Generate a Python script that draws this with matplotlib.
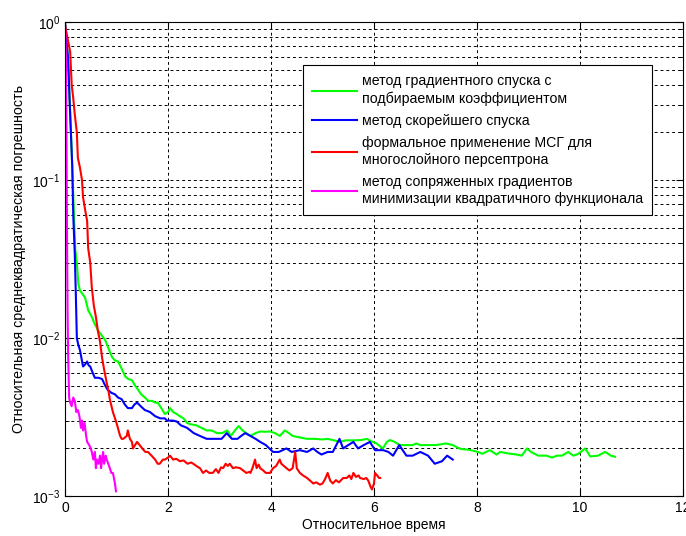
import matplotlib
matplotlib.use('Agg')
import matplotlib.pyplot as plt
import matplotlib.ticker as mticker
import numpy as np

plt.rcParams['font.family'] = ['Liberation Sans', 'DejaVu Sans']
plt.rcParams['font.size'] = 10
plt.rcParams['xtick.direction'] = 'in'
plt.rcParams['ytick.direction'] = 'in'

# метод градиентного спуска с подбираемым коэффициентом
x_green = [0, 0.03, 0.06, 0.1, 0.14, 0.17, 0.2, 0.23, 0.26, 0.29, 0.34, 0.39, 0.45, 0.52, 0.58, 0.64,
           0.71, 0.78, 0.85, 0.91, 0.97, 1.03, 1.1, 1.17, 1.23, 1.3, 1.36, 1.42, 1.48, 1.55, 1.62, 1.69,
           1.75, 1.8, 1.87, 1.94, 2.0, 2.04, 2.1, 2.17, 2.23, 2.3, 2.37, 2.43, 2.55, 2.65, 2.75, 2.85,
           2.95, 3.05, 3.15, 3.22, 3.3, 3.37, 3.45, 3.52, 3.6, 3.7, 3.79, 3.88, 3.98, 4.08, 4.17, 4.27,
           4.35, 4.42, 4.55, 4.7, 4.85, 5.0, 5.1, 5.2, 5.34, 5.45, 5.6, 5.75, 5.86, 5.95, 6.05, 6.17,
           6.25, 6.31, 6.4, 6.5, 6.65, 6.75, 6.82, 6.9, 7.05, 7.2, 7.28, 7.4, 7.53, 7.67, 7.85, 8.02,
           8.1, 8.25, 8.38, 8.45, 8.6, 8.77, 8.87, 8.97, 9.05, 9.19, 9.35, 9.46, 9.55, 9.65, 9.77, 9.87,
           9.97, 10.1, 10.2, 10.35, 10.49, 10.6, 10.68]
y_green = [1.0, 0.8, 0.55, 0.27, 0.125, 0.065, 0.036, 0.03, 0.022, 0.02, 0.019, 0.018, 0.015, 0.0136,
           0.0122, 0.0112, 0.0104, 0.0097, 0.0085, 0.0076, 0.0072, 0.0071, 0.0064, 0.0057, 0.0055,
           0.0054, 0.005, 0.0047, 0.0044, 0.0042, 0.004, 0.004, 0.0039, 0.0039, 0.0036, 0.0033, 0.0034,
           0.0036, 0.0034, 0.0033, 0.0032, 0.0031, 0.0029, 0.00285, 0.0028, 0.0027, 0.0026, 0.0026,
           0.0025, 0.0025, 0.0026, 0.0024, 0.0026, 0.00277, 0.0026, 0.0025, 0.0024, 0.0025, 0.00256,
           0.00255, 0.00256, 0.0025, 0.0024, 0.0026, 0.0025, 0.0024, 0.00235, 0.0023, 0.0023, 0.00228,
           0.0023, 0.00226, 0.0022, 0.00225, 0.00225, 0.00226, 0.0023, 0.00222, 0.00215, 0.002, 0.0022,
           0.00226, 0.0022, 0.0021, 0.0021, 0.0021, 0.00215, 0.0021, 0.0021, 0.0021, 0.00212, 0.00215,
           0.0021, 0.00199, 0.00196, 0.0019, 0.00185, 0.00195, 0.00183, 0.0019, 0.00186, 0.00183,
           0.0018, 0.002, 0.0019, 0.0018, 0.0018, 0.00175, 0.0018, 0.0018, 0.0019, 0.0018, 0.00185,
           0.002, 0.00178, 0.0018, 0.0019, 0.0018, 0.00177]

# метод скорейшего спуска
x_blue = [0, 0.03, 0.06, 0.1, 0.14, 0.16, 0.19, 0.21, 0.23, 0.26, 0.29, 0.35, 0.39, 0.43, 0.46, 0.49,
          0.54, 0.58, 0.65, 0.72, 0.78, 0.83, 0.9, 0.97, 1.03, 1.1, 1.16, 1.22, 1.3, 1.35, 1.4, 1.47,
          1.55, 1.65, 1.75, 1.85, 1.94, 1.98, 2.1, 2.17, 2.25, 2.37, 2.5, 2.62, 2.75, 2.87, 2.95, 3.04,
          3.14, 3.24, 3.35, 3.42, 3.5, 3.6, 3.7, 3.79, 3.9, 4.04, 4.15, 4.3, 4.4, 4.56, 4.7, 4.82, 4.9,
          4.98, 5.1, 5.2, 5.33, 5.4, 5.5, 5.6, 5.69, 5.8, 5.92, 6.02, 6.18, 6.28, 6.37, 6.49, 6.63,
          6.75, 6.9, 7.05, 7.18, 7.32, 7.42, 7.53]
y_blue = [1.0, 0.75, 0.59, 0.26, 0.124, 0.06, 0.034, 0.019, 0.01, 0.009, 0.0084, 0.0066, 0.0068, 0.0071,
          0.0067, 0.0066, 0.006, 0.0056, 0.0056, 0.0055, 0.005, 0.0047, 0.0045, 0.0044, 0.0042, 0.0041,
          0.0038, 0.0036, 0.0036, 0.0038, 0.0039, 0.0037, 0.0035, 0.0034, 0.0032, 0.0031, 0.0031, 0.003,
          0.003, 0.00296, 0.0028, 0.0027, 0.0025, 0.0024, 0.0023, 0.0023, 0.0023, 0.0023, 0.0025,
          0.0023, 0.0023, 0.0024, 0.0025, 0.0024, 0.0023, 0.0022, 0.0021, 0.0019, 0.0019, 0.002, 0.0019,
          0.00195, 0.0019, 0.002, 0.0019, 0.00183, 0.0019, 0.0019, 0.0023, 0.002, 0.0021, 0.0022, 0.002,
          0.0021, 0.0022, 0.00195, 0.00195, 0.0019, 0.0018, 0.0021, 0.0018, 0.0018, 0.0019, 0.0018,
          0.0016, 0.00166, 0.0018, 0.0017]

# формальное применение МСГ
x_red = [0, 0.03, 0.1, 0.13, 0.16, 0.19, 0.23, 0.25, 0.29, 0.33, 0.35, 0.39, 0.43, 0.45, 0.49, 0.52,
         0.56, 0.6, 0.64, 0.68, 0.72, 0.76, 0.81, 0.85, 0.87, 0.93, 1.0, 1.07, 1.1, 1.13, 1.2, 1.22,
         1.26, 1.3, 1.32, 1.36, 1.4, 1.45, 1.5, 1.56, 1.61, 1.68, 1.75, 1.8, 1.84, 1.9, 1.94, 2.0, 2.04,
         2.1, 2.16, 2.23, 2.3, 2.38, 2.45, 2.49, 2.55, 2.62, 2.68, 2.74, 2.8, 2.87, 2.93, 2.98, 3.03,
         3.07, 3.12, 3.16, 3.2, 3.26, 3.32, 3.4, 3.46, 3.52, 3.58, 3.6, 3.64, 3.69, 3.72, 3.76, 3.79,
         3.85, 3.9, 3.98, 4.04, 4.1, 4.17, 4.2, 4.25, 4.3, 4.36, 4.42, 4.47, 4.5, 4.56, 4.62, 4.7, 4.76,
         4.82, 4.88, 4.95, 5.0, 5.05, 5.1, 5.15, 5.2, 5.26, 5.32, 5.4, 5.47, 5.52, 5.56, 5.6, 5.65, 5.7,
         5.73, 5.8, 5.85, 5.89, 5.93, 5.96, 6.0, 6.02, 6.06, 6.1, 6.12]
y_red = [0.95, 0.85, 0.65, 0.4, 0.33, 0.26, 0.2, 0.138, 0.12, 0.1, 0.078, 0.065, 0.055, 0.037, 0.03,
         0.021, 0.016, 0.0136, 0.011, 0.0095, 0.0075, 0.0063, 0.0052, 0.0045, 0.0041, 0.0034, 0.0029,
         0.0024, 0.0023, 0.0023, 0.0024, 0.0026, 0.0023, 0.0022, 0.002, 0.0021, 0.0022, 0.0021, 0.002,
         0.0019, 0.0019, 0.0018, 0.0017, 0.0016, 0.0016, 0.0017, 0.0017, 0.00175, 0.0018, 0.0017,
         0.00172, 0.00166, 0.00168, 0.0016, 0.00163, 0.0016, 0.00155, 0.0015, 0.0014, 0.00145, 0.0014,
         0.0014, 0.00148, 0.0014, 0.00152, 0.0015, 0.0016, 0.00155, 0.0016, 0.0015, 0.00152, 0.0015,
         0.00145, 0.0014, 0.00142, 0.0014, 0.0015, 0.0017, 0.0015, 0.00158, 0.0015, 0.00145, 0.0014,
         0.0014, 0.0015, 0.00155, 0.0017, 0.0016, 0.00155, 0.0015, 0.00145, 0.0015, 0.0019, 0.0015,
         0.0014, 0.00135, 0.0013, 0.00125, 0.0012, 0.00122, 0.00118, 0.0012, 0.00128, 0.0014, 0.00125,
         0.0012, 0.00126, 0.00122, 0.0013, 0.0013, 0.00135, 0.00128, 0.0014, 0.00132, 0.00135, 0.0013,
         0.00128, 0.0013, 0.00125, 0.00115, 0.0011, 0.0012, 0.0014, 0.00135, 0.0013, 0.0013]

# метод сопряженных градиентов
x_mag = [0, 0.02, 0.03, 0.04, 0.05, 0.06, 0.08, 0.1, 0.13, 0.16, 0.19, 0.22, 0.25, 0.28, 0.31, 0.33,
         0.35, 0.38, 0.41, 0.43, 0.47, 0.5, 0.52, 0.55, 0.58, 0.6, 0.62, 0.65, 0.68, 0.7, 0.72, 0.74,
         0.76, 0.79, 0.81, 0.84, 0.87, 0.9, 0.93, 0.95, 0.97, 0.99]
y_mag = [1.0, 0.6, 0.16, 0.04, 0.015, 0.008, 0.0042, 0.0039, 0.0037, 0.0042, 0.004, 0.0034, 0.0035,
         0.0032, 0.0027, 0.003, 0.0026, 0.0029, 0.0024, 0.0022, 0.0021, 0.002, 0.0019, 0.0017, 0.0019,
         0.0015, 0.0017, 0.0016, 0.0018, 0.0015, 0.0017, 0.0019, 0.0016, 0.0018, 0.0017, 0.0016,
         0.0015, 0.0014, 0.0014, 0.0013, 0.0012, 0.00107]

labels = ['метод градиентного спуска с\nподбираемым коэффициентом',
          'метод скорейшего спуска',
          'формальное применение МСГ для\nмногослойного персептрона',
          'метод сопряженных градиентов\nминимизации квадратичного функционала']

fig = plt.figure(figsize=(6.86, 5.36), dpi=100)
ax = fig.add_axes([65 / 686, 40 / 536, 618 / 686, 474 / 536])

lw = 1.5
ax.plot(x_green, y_green, color=(0, 1, 0), lw=lw, label=labels[0])
ax.plot(x_blue, y_blue, color=(0, 0, 1), lw=lw, label=labels[1])
ax.plot(x_red, y_red, color=(1, 0, 0), lw=lw, label=labels[2])
ax.plot(x_mag, y_mag, color=(1, 0, 1), lw=lw, label=labels[3])

ax.set_yscale('log')
ax.set_xlim(0, 12)
ax.set_ylim(1e-3, 1)
ax.xaxis.set_major_locator(mticker.MultipleLocator(2))
ax.tick_params(which='both', top=True, right=True)
ax.tick_params(which='major', length=5)
ax.tick_params(which='minor', length=3)
ax.grid(True, which='major', axis='both', color='k', linestyle=(0, (3, 3)), linewidth=0.7)
ax.grid(True, which='minor', axis='y', color='k', linestyle=(0, (3, 3)), linewidth=0.7)
for s in ax.spines.values():
    s.set_linewidth(0.8)

ax.set_xlabel('Относительное время', labelpad=2)
ax.set_ylabel('Относительная среднеквадратическая погрешность', fontsize=10.3)

leg = ax.legend(loc='upper left', bbox_to_anchor=(0.385, 0.909), fancybox=False,
                edgecolor='k', framealpha=1, fontsize=10.2, handlelength=3.2,
                handletextpad=0.3, labelspacing=0.55, borderpad=0.65, borderaxespad=0)
leg.get_frame().set_linewidth(0.8)
for t in leg.get_texts():
    t.set_linespacing(1.3)

fig.savefig('out.png', dpi=100)
